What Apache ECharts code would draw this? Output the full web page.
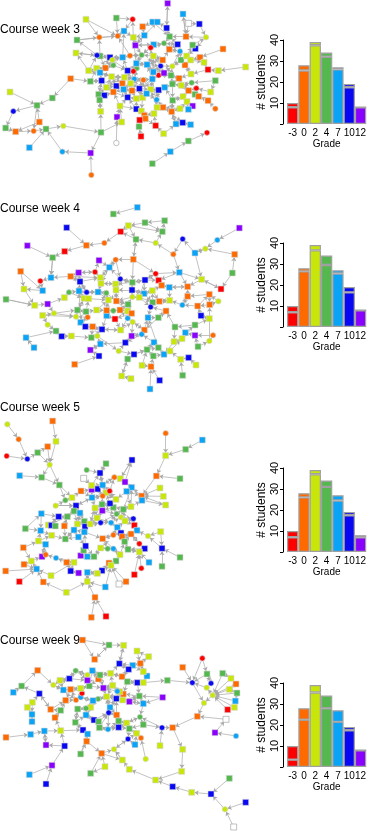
<!DOCTYPE html>
<html>
<head>
<meta charset="utf-8">
<script src="https://cdn.jsdelivr.net/npm/echarts@6/dist/echarts.min.js"></script>
<style>
html, body { margin: 0; padding: 0; background: #fff; }
#chart { width: 369px; height: 831px; }
</style>
</head>
<body>
<div id="chart"></div>
<script>
// grades and their colours (last one = no grade)
var gradeLabels = ['-3', '0', '2', '4', '7', '10', '12'];
var gradeColors = ['#ff0000', '#ff6a00', '#c8e60a', '#55b84f', '#0aa3f5', '#0808f2', '#8a00ff', '#ffffff'];

// students per grade (whole bar) and the part below the grey line, per week
var totalCounts = [10, 28, 39, 34, 27, 19, 8];
var activeWeek3 = [8, 25.5, 37.5, 32, 26, 17.5, 8];
var activeWeek4 = [7, 26.5, 36.5, 29.5, 25.5, 16.5, 8];
var activeWeek5 = [7, 26, 37, 31, 24.5, 17.5, 7];
var activeWeek9 = [3.5, 22.5, 35.5, 28, 21.5, 17.5, 8];

// network nodes: [x, y, grade, circle?, links to]
var nodesWeek3 = [
 [457,237,4,0,-1],[430,240,1,1,0],[403,237,4,1,1],[476,226,0,1,0],[513,226,3,0,3],[537,235,1,0,4],[492,219,6,0,3],[460,216,4,0,0],
 [410,205,3,1,2],[400,214,0,1,8],[383,212,5,0,9],[373,232,2,0,2],[335,230,2,0,11],[340,196,3,1,10],[316,204,1,0,13],[290,205,2,0,14],
 [300,218,4,0,12],[305,242,5,0,16],[271,244,3,0,17],[266,212,2,0,15],[349,258,5,0,12],[367,250,1,0,11],[392,250,2,0,2],[371,268,4,0,22],
 [396,272,1,0,23],[418,266,5,0,1],[452,268,2,0,0],[476,270,5,0,26],[494,262,4,0,27],[517,252,3,0,5],[544,256,2,0,29],[573,222,2,0,5],
 [575,248,3,1,30],[566,272,1,0,30],[589,265,0,1,33],[632,276,2,0,34],[646,242,3,0,32],[624,209,0,0,31],[655,212,2,0,37],[737,201,2,0,38],
 [555,195,1,0,31],[517,199,2,1,6],[482,198,5,1,7],[543,180,3,0,41],[560,168,2,0,43],[572,180,2,0,44],[600,172,1,0,45],[612,187,2,0,46],
 [669,147,1,0,46],[586,146,5,0,44],[578,135,3,0,49],[540,154,4,1,43],[508,148,1,0,51],[533,133,5,0,52],[492,130,3,1,53],[461,134,4,0,54],
 [452,143,0,1,55],[488,180,1,0,42],[460,168,2,0,57],[441,194,4,0,58],[409,190,4,0,59],[425,165,3,1,60],[390,167,1,1,61],[368,172,4,0,62],
 [330,172,5,0,63],[300,168,3,0,64],[291,166,5,1,65],[337,180,2,1,64],[406,136,6,0,61],[433,106,4,0,68],[400,112,2,0,68],[372,93,4,0,70],
 [353,108,1,1,71],[298,112,1,1,72],[231,120,3,0,73],[228,159,2,0,66],[349,54,3,0,72],[258,58,2,0,73],[398,58,0,1,71],[428,80,1,0,69],
 [458,66,4,0,79],[472,66,4,0,80],[500,84,5,0,81],[509,110,3,0,82],[558,110,1,0,83],[618,112,2,1,84],[549,42,4,0,84],[503,10,6,0,82],
 [566,70,7,0,84],[598,72,5,0,85],[319,262,2,0,20],[296,283,3,0,90],[313,286,5,0,91],[340,276,1,0,20],[299,300,3,0,92],[302,334,2,0,94],
 [360,318,2,0,93],[383,292,5,0,24],[409,296,2,0,97],[428,293,2,0,25],[440,281,4,0,26],[470,299,4,1,27],[518,301,3,0,28],[549,290,2,0,102],
 [561,305,2,0,103],[585,283,3,0,33],[596,289,1,0,105],[624,302,1,0,106],[646,326,1,1,107],[578,318,6,0,104],[565,328,4,0,109],[540,326,2,0,104],
 [515,335,1,0,102],[489,322,1,0,101],[471,322,2,0,113],[462,341,2,0,114],[409,327,5,0,98],[424,333,2,0,116],[433,346,1,0,117],[436,356,1,0,118],
 [419,360,0,0,119],[351,351,6,0,96],[365,366,2,0,96],[417,380,3,0,120],[467,377,0,0,115],[491,401,2,0,124],[423,409,0,0,123],[528,372,4,0,112],
 [548,368,5,0,127],[572,374,4,0,128],[349,429,7,1,121],[303,397,3,0,122],[190,378,2,1,131],[138,387,3,0,132],[101,393,1,1,133],[47,395,1,0,134],
 [17,384,3,0,135],[40,334,5,1,136],[111,316,3,0,137],[157,294,3,0,138],[212,236,1,0,139],[30,276,2,0,138],[118,366,1,0,138],[88,443,4,0,133],
 [187,455,4,1,133],[272,459,6,0,144],[274,525,1,1,145],[621,398,0,1,-1],[565,423,3,0,147],[511,455,4,0,148],[457,491,3,0,149]
];
var linksWeek3 = [
 [140,18],[131,145],[131,95],[138,134],[142,135],[0,7],[0,25],[0,59],[1,22],[2,11],[3,7],[3,42],[4,41],[5,30],[6,42],[7,59],[8,60],[9,22],
 [10,63],[12,20],[13,67],[14,67],[16,64],[17,20],[19,66],[21,97],[22,24],[23,93],[25,99],[26,100],[27,101],[28,29],[29,102],[30,32],[31,43],
 [33,105],[36,35],[40,45],[41,51],[42,58],[44,50],[47,37],[52,54],[53,83],[55,56],[56,61],[57,52],[58,61],[60,9],[61,70],[62,72],[63,71],
 [64,75],[65,73],[68,55],[69,81],[70,78],[74,72],[76,78],[77,72],[83,54],[85,49],[90,12],[91,17],[94,95],[96,116],[98,100],[99,117],[103,33],
 [104,110],[111,113],[112,127],[114,26],[115,118],[116,97],[119,124],[120,123],[122,121],[125,127],[128,129],[10,21],[11,60],[20,93],[2,99],
 [3,4],[7,56],[5,33],[26,27],[0,114],[1,25],[13,14],[8,70],[62,63],[67,10],[9,11],[18,15],[19,75],[66,74],[65,14],[17,91],[23,97],[24,98],
 [100,101],[102,112],[111,112],[113,128],[6,4],[41,44],[43,40],[45,47],[50,85],[84,86],[88,89],[82,87],[80,83],[68,69],[60,42],[59,7],
 [56,54],[12,21],[16,19],[22,25],[0,26],[0,3],[1,2],[1,26],[2,22],[3,6],[7,42],[7,58],[8,9],[10,11],[11,21],[12,16],[13,64],[14,15],
 [17,18],[20,21],[22,23],[25,26],[27,28],[29,4],[30,33],[31,40],[41,43],[42,41],[44,45],[51,52],[53,54],[57,58],[59,60],[61,62],[63,64],
 [64,65],[67,63],[69,70],[71,72],[55,61],[58,59],[60,61],[2,8],[9,10],[11,12],[93,97],[96,97],[98,99],[100,26],[101,114],[102,103],
 [112,113],[116,117],[118,119],[23,24],[24,25],[90,93],[91,94],[92,93],[6,41],[4,5],[57,59],[55,68]
];

var nodesWeek4 = [
 [397,247,3,0,-1],[435,240,5,0,0],[361,237,5,1,0],[467,221,0,1,1],[476,241,0,0,3],[538,217,4,0,4],[396,270,5,0,0],[432,281,4,0,6],
 [457,272,2,0,7],[485,256,1,0,4],[508,262,4,0,9],[563,260,1,0,10],[605,238,2,0,11],[663,267,0,0,12],[347,252,2,0,2],[348,270,2,0,14],
 [303,250,2,0,14],[301,233,2,0,16],[285,216,0,1,17],[328,202,4,0,17],[347,179,1,1,19],[297,181,6,0,19],[236,218,6,0,18],[240,245,5,0,22],
 [212,229,1,0,23],[260,277,5,1,23],[237,273,4,0,25],[207,277,3,1,26],[294,276,4,0,25],[319,279,3,1,28],[252,295,2,0,26],[266,296,2,0,30],
 [325,300,2,0,29],[349,303,1,0,15],[384,313,3,0,33],[397,291,2,1,6],[418,292,2,0,35],[458,307,3,0,8],[478,304,1,0,37],[509,301,2,0,38],
 [563,289,1,0,11],[628,283,1,0,40],[655,304,2,1,41],[547,315,4,1,40],[593,318,1,0,43],[629,314,1,0,44],[603,347,5,0,44],[628,356,2,0,46],
 [452,321,5,1,37],[498,333,1,0,48],[475,353,3,0,49],[444,353,4,0,50],[525,381,3,0,49],[585,375,3,0,52],[556,398,4,0,53],[585,406,6,0,54],
 [639,406,1,1,55],[628,423,2,1,56],[594,440,3,0,57],[546,416,2,0,54],[522,425,2,0,59],[383,333,2,0,34],[395,340,1,0,61],[383,355,4,1,62],
 [398,366,2,1,63],[433,390,1,0,64],[425,403,4,1,65],[395,408,6,0,66],[462,427,4,0,66],[441,449,3,0,68],[475,443,3,0,68],[492,463,4,0,70],
 [510,453,2,0,71],[542,478,2,0,72],[566,473,5,0,73],[588,495,2,0,74],[548,526,3,0,73],[460,468,3,0,71],[453,500,1,0,77],[426,496,2,0,78],
 [402,463,5,0,69],[383,477,3,0,80],[365,528,2,0,81],[393,536,2,0,82],[479,541,5,0,78],[450,567,4,0,78],[376,428,5,0,67],[356,453,2,1,86],
 [362,390,2,0,64],[345,357,0,0,61],[320,347,4,0,89],[320,331,1,0,32],[340,332,3,1,91],[360,330,1,0,92],[290,330,2,0,91],[258,335,3,0,94],
 [232,330,3,0,95],[228,350,2,1,96],[263,352,1,1,97],[242,367,4,0,98],[256,380,5,0,99],[278,380,1,0,100],[306,388,5,0,101],[274,413,3,0,102],
 [292,408,2,1,103],[301,432,4,0,104],[271,450,6,0,105],[297,468,5,0,106],[214,408,2,0,103],[185,409,5,0,108],[168,393,3,0,109],[143,374,2,1,110],
 [78,413,4,0,110],[102,443,4,0,112],[224,493,1,0,107],[162,340,2,1,96],[128,346,2,0,115],[193,293,2,0,27],[143,312,6,0,117],[104,316,2,0,118],
 [18,298,3,0,119],[72,267,2,0,119],[128,272,4,0,121],[62,214,1,0,121],[121,243,0,1,122],[153,233,4,0,124],[158,173,3,0,125],[82,137,6,0,126],
 [194,154,0,0,126],[259,136,1,0,128],[200,83,5,0,129],[313,129,1,1,129],[362,95,0,0,131],[385,77,2,0,132],[435,68,3,0,133],[494,62,3,0,134],
 [487,95,3,0,135],[408,118,3,0,132],[400,178,1,0,137],[467,129,2,1,136],[520,163,1,1,139],[548,117,5,1,140],[585,159,4,0,141],[616,146,2,1,142],
 [652,120,4,1,143],[718,84,6,0,144],[704,163,1,0,143],[697,219,3,0,146],[340,42,3,0,-1],[412,22,4,0,148]
];
var linksWeek4 = [
 [138,0],[138,20],[5,12],[142,12],[147,13],[24,125],[23,17],[26,30],[6,15],[7,36],[8,9],[10,39],[37,39],[45,42],[46,47],[44,41],[35,33],
 [36,48],[33,61],[16,28],[29,32],[93,34],[89,88],[63,88],[102,88],[99,26],[97,30],[95,31],[94,32],[90,102],[100,101],[104,87],[86,105],
 [87,80],[81,82],[79,69],[80,69],[70,51],[50,65],[52,60],[53,59],[53,47],[58,55],[57,45],[60,71],[72,59],[77,69],[23,25],[25,28],[27,117],
 [30,96],[118,115],[116,111],[111,109],[18,21],[20,2],[1,3],[1,7],[0,14],[0,6],[2,14],[4,9],[5,11],[19,16],[22,24],[138,3],[134,136],
 [133,137],[139,137],[140,5],[62,63],[65,51],[66,86],[64,67],[34,62],[92,93],[91,29],[14,15],[15,2],[26,23],[27,30],[116,97],[115,97],
 [123,122],[120,119],[113,112],[12,13],[142,143],[41,45],[43,39],[40,43],[10,11],[1,36],[6,35],[7,8],[48,51],[49,50],[28,29],[31,32],
 [24,17],[126,125],[133,136],[137,138],[0,1],[0,2],[1,4],[2,19],[3,5],[6,7],[7,37],[8,38],[9,10],[14,16],[15,33],[16,17],[17,19],[18,22],
 [19,20],[23,24],[25,26],[28,32],[29,33],[33,34],[34,35],[35,36],[36,37],[37,48],[38,39],[61,62],[62,89],[63,64],[64,65],[88,102],[91,92],
 [93,61],[95,96],[96,97],[98,99],[100,102],[101,103],[103,104],[105,106],[66,67],[68,69],[69,70],[71,72]
];

var nodesWeek5 = [
 [340,292,3,0,-1],[330,280,5,0,0],[306,283,3,0,1],[307,302,6,0,2],[285,294,2,0,2],[350,312,3,1,0],[370,298,3,0,0],[393,290,2,0,6],
 [348,268,2,0,1],[318,248,2,0,8],[329,243,0,1,9],[308,258,1,1,9],[293,237,5,0,11],[275,239,6,0,12],[308,225,4,0,9],[275,226,2,0,14],
 [251,205,7,0,15],[300,189,5,0,14],[260,180,3,1,17],[318,161,3,0,17],[343,202,1,1,14],[361,206,2,0,20],[375,216,6,0,21],[396,150,5,0,21],
 [395,232,4,0,22],[380,244,4,0,24],[425,258,1,0,24],[426,271,4,0,26],[469,198,1,0,26],[480,234,2,0,26],[490,259,2,0,26],[497,285,2,0,26],
 [540,206,3,0,28],[497,137,2,0,28],[497,70,1,1,33],[557,118,3,0,33],[607,90,4,0,35],[276,263,4,0,11],[243,243,1,0,13],[216,263,2,0,38],
 [196,271,3,1,39],[178,225,3,0,39],[125,202,3,0,41],[59,197,4,0,42],[149,164,2,1,42],[113,128,3,0,44],[82,147,5,1,45],[20,138,0,1,46],
 [56,88,1,1,46],[22,43,2,1,48],[168,94,2,0,44],[158,33,1,0,50],[143,110,1,0,44],[228,287,5,0,37],[167,287,2,1,53],[222,303,3,0,53],
 [240,309,4,0,55],[202,320,3,0,55],[176,320,5,0,57],[124,311,4,0,58],[76,356,3,0,59],[145,345,2,0,58],[154,346,5,0,61],[166,348,3,0,62],
 [193,348,1,0,57],[232,342,2,0,56],[253,334,3,0,65],[255,350,5,0,66],[270,342,2,0,4],[291,324,2,0,3],[302,338,5,1,69],[333,338,4,1,5],
 [352,352,4,0,71],[363,322,2,1,5],[375,333,2,0,73],[400,326,5,1,74],[403,346,0,0,75],[411,361,4,0,76],[444,378,2,1,77],[482,365,2,0,78],
 [486,415,5,0,78],[540,442,3,0,80],[486,469,3,0,80],[363,369,5,0,72],[340,375,1,1,72],[366,380,1,0,83],[393,372,1,0,85],[418,401,0,1,86],
 [374,395,3,0,85],[384,418,3,0,88],[434,416,5,0,89],[418,426,2,0,89],[447,457,4,0,91],[424,475,0,1,91],[403,494,0,0,91],[308,386,1,0,84],
 [340,416,4,1,95],[323,416,3,1,96],[302,414,2,0,97],[360,434,2,0,96],[348,453,3,0,99],[327,459,1,0,100],[333,466,2,0,100],[306,482,5,0,102],
 [292,490,2,0,103],[262,487,4,0,104],[262,515,2,0,105],[285,562,1,0,106],[274,622,1,0,107],[318,619,0,0,107],[316,531,4,0,102],[357,522,7,0,102],
 [378,515,1,0,102],[282,440,3,0,98],[262,440,4,0,113],[242,437,6,0,114],[251,421,3,0,114],[257,408,5,0,116],[253,366,4,0,67],[235,381,4,0,118],
 [222,360,4,0,119],[196,387,3,0,120],[155,376,2,0,121],[122,362,4,0,122],[115,393,2,0,123],[137,403,4,0,124],[70,413,1,0,124],[126,440,6,0,125],
 [137,434,1,1,127],[168,444,4,1,128],[200,457,1,0,129],[222,457,2,0,130],[94,453,2,0,127],[72,463,1,0,132],[110,477,4,0,132],[17,483,1,0,134],
 [58,515,0,0,134],[153,497,2,0,134],[130,516,1,0,134],[199,547,2,0,138],[212,483,5,0,131],[236,489,6,0,140]
];
var linksWeek5 = [
 [139,106],[59,123],[60,123],[54,40],[41,40],[37,53],[13,15],[12,14],[10,20],[1,8],[0,7],[6,73],[3,4],[70,71],[68,70],[2,11],[8,9],[25,7],
 [27,31],[24,21],[22,23],[57,61],[65,68],[118,95],[119,117],[117,113],[115,116],[129,131],[130,140],[104,105],[103,101],[99,100],[98,113],
 [86,87],[83,84],[75,77],[74,6],[0,5],[73,74],[72,83],[96,97],[66,68],[67,118],[64,121],[57,58],[56,65],[55,56],[53,55],[37,11],[38,37],
 [39,40],[44,41],[45,52],[89,91],[88,86],[85,86],[90,87],[79,80],[76,77],[3,69],[4,68],[1,2],[17,19],[9,10],[14,17],[12,13],[11,37],[2,4],
 [5,73],[6,7],[0,1],[71,72],[69,70],[125,127],[124,122],[126,132],[133,134],[137,131],[140,141],[105,106],[110,106],[112,111],[84,95],
 [96,99],[98,97],[114,116],[54,53],[55,57],[58,62],[61,63],[64,57],[120,121],[118,119],[67,68],[7,24],[25,26],[26,27],[21,22],[20,21],
 [0,2],[0,3],[1,9],[2,3],[3,5],[4,69],[5,6],[6,24],[7,27],[8,10],[9,11],[10,14],[11,12],[12,15],[13,37],[14,20],[15,17],[20,22],[21,23],
 [24,25],[25,8],[37,4],[53,56],[55,65],[56,66],[65,66],[66,67],[67,70],[68,69],[69,71],[70,5],[71,73],[72,74],[73,75],[74,76],[83,85],
 [84,72],[85,88],[95,97],[97,98],[99,88],[113,114],[116,117],[117,118],[118,120],[119,121]
];

var nodesWeek9 = [
 [330,262,4,0,-1],[326,278,5,1,0],[350,285,1,0,1],[349,236,5,0,0],[368,240,2,0,3],[388,245,6,0,4],[430,251,4,0,5],[418,228,3,0,5],
 [488,232,6,0,7],[370,222,1,0,3],[359,215,2,0,9],[352,214,4,1,10],[338,196,2,0,11],[310,204,6,0,12],[320,230,2,0,0],[294,237,3,1,14],
 [279,242,4,0,15],[272,262,2,0,16],[258,265,3,1,17],[233,267,3,0,18],[242,232,4,1,16],[246,220,0,1,20],[228,240,1,1,20],[197,241,1,0,22],
 [242,205,2,0,21],[268,198,3,0,24],[212,208,1,0,24],[190,210,4,0,26],[160,195,2,1,27],[180,181,2,0,28],[208,176,5,0,29],[227,152,3,1,30],
 [262,165,2,1,31],[277,152,4,0,32],[262,181,6,0,32],[295,177,1,0,33],[300,165,3,0,35],[332,160,2,0,36],[366,170,1,0,37],[382,185,3,0,38],
 [412,188,5,0,39],[430,188,2,0,40],[441,168,4,0,41],[430,155,2,0,42],[421,130,1,0,43],[398,136,4,0,44],[386,148,5,0,45],[358,131,5,0,46],
 [411,93,2,0,44],[446,110,2,0,48],[371,76,2,0,47],[327,75,3,0,50],[284,118,1,0,51],[248,60,1,0,52],[113,151,1,0,28],[65,198,3,0,54],
 [40,217,4,0,55],[118,221,5,0,55],[97,247,2,0,57],[82,262,2,0,58],[152,268,1,0,57],[182,271,3,0,60],[96,283,4,0,59],[96,305,4,0,62],
 [165,293,1,0,61],[226,307,3,0,19],[258,285,4,0,18],[282,300,5,0,66],[296,305,3,0,67],[298,323,3,0,68],[324,328,4,1,69],[356,303,3,0,2],
 [356,322,5,0,71],[380,309,2,0,71],[420,291,3,1,73],[430,314,3,0,74],[388,326,3,0,73],[410,340,2,0,76],[384,357,5,1,77],[423,354,1,1,77],
 [405,374,4,0,78],[437,417,2,1,79],[342,388,2,1,78],[367,420,2,0,82],[388,448,2,0,83],[467,480,2,0,84],[518,500,5,0,85],[575,517,2,0,86],
 [633,522,5,0,87],[688,475,3,0,88],[675,568,2,1,88],[737,547,5,0,90],[701,621,7,0,90],[545,454,2,0,85],[548,388,2,0,93],[518,323,1,0,94],
 [486,323,5,1,95],[480,377,2,0,96],[592,289,1,0,95],[612,249,2,1,98],[577,188,5,1,99],[548,142,1,0,100],[502,181,3,0,100],[607,115,0,1,100],
 [621,162,3,0,100],[633,190,5,1,104],[620,203,2,1,105],[638,226,2,1,106],[668,160,3,0,107],[693,175,2,0,107],[708,192,1,0,107],[688,208,2,0,107],
 [711,219,3,0,107],[706,243,4,0,107],[683,269,0,0,107],[703,262,2,0,107],[678,298,7,0,98],[645,338,6,0,116],[708,348,4,1,117],[305,400,1,0,82],
 [315,440,2,0,119],[272,460,3,0,119],[260,364,1,0,119],[242,402,3,0,122],[249,330,5,0,65],[263,342,4,0,124],[182,332,2,0,124],[133,333,4,0,126],
 [92,343,4,0,127],[18,352,1,0,128],[138,375,6,0,127],[194,378,5,0,126],[156,436,6,0,131],[88,464,4,0,132],[138,492,5,0,132]
];
var linksWeek9 = [
 [6,7],[60,23],[61,23],[64,61],[57,60],[62,63],[58,62],[127,130],[131,130],[126,64],[65,124],[19,65],[17,66],[0,14],[1,14],[2,3],[3,14],
 [4,9],[5,6],[7,9],[10,12],[11,13],[12,37],[13,36],[15,17],[16,20],[20,22],[21,24],[25,13],[26,23],[28,30],[29,27],[31,34],[33,36],[35,25],
 [37,47],[38,46],[39,9],[40,7],[42,43],[45,47],[46,38],[0,2],[1,70],[70,72],[71,73],[69,1],[67,1],[72,76],[76,78],[78,82],[80,77],[83,82],
 [120,121],[122,125],[123,125],[15,18],[14,16],[33,25],[36,13],[4,5],[2,71],[6,74],[107,99],[104,105],[103,104],[106,100],[110,111],
 [108,109],[96,74],[75,96],[8,6],[41,102],[45,43],[47,50],[51,52],[53,51],[44,49],[24,26],[27,22],[30,31],[32,34],[12,13],[10,3],[9,14],
 [18,66],[67,68],[69,70],[65,66],[124,125],[125,122],[119,83],[68,1],[73,74],[75,76],[112,113],[114,115],[111,112],
 [0,3],[0,1],[1,2],[2,72],[3,4],[4,7],[5,7],[9,10],[10,11],[11,12],[12,14],[13,14],[14,15],[15,16],[16,17],[17,18],[18,19],[20,21],
 [21,22],[22,26],[24,25],[25,34],[26,27],[27,28],[29,30],[30,34],[31,32],[32,33],[33,35],[35,36],[36,37],[37,38],[38,39],[39,40],
 [40,41],[41,42],[43,44],[44,45],[45,46],[46,47],[66,67],[67,68],[68,69],[69,72],[70,71],[72,73],[73,76]
];

var weekTitles = ['Course week 3', 'Course week 4', 'Course week 5', 'Course week 9'];

var font = '"Liberation Sans", Arial, Helvetica, sans-serif';
var chart = echarts.init(document.getElementById('chart'));

var netGrids = [
  {top: 0, height: 200, ymax: 600},
  {top: 200, height: 200, ymax: 600},
  {top: 410, height: 210, ymax: 630},
  {top: 620, height: 211, ymax: 633}
];
var barTops = [40, 243, 468, 683];
var titleTops = [24, 203, 402, 635];
var netNodes = [nodesWeek3, nodesWeek4, nodesWeek5, nodesWeek9];
var netLinks = [linksWeek3, linksWeek4, linksWeek5, linksWeek9];
var activeAll = [activeWeek3, activeWeek4, activeWeek5, activeWeek9];

var grid = [], xAxis = [], yAxis = [], series = [], title = [];

function graphSeries(nodes, extra, idx) {
  var data = nodes.map(function (n) {
    return {
      value: [n[0], n[1]],
      symbol: n[3] ? 'circle' : 'rect',
      symbolSize: n[3] ? 5.5 : 6,
      itemStyle: {
        color: gradeColors[n[2]],
        borderColor: n[2] === 7 ? '#999' : '#d8d8d8',
        borderWidth: 0.6
      }
    };
  });
  var links = [];
  nodes.forEach(function (n, i) {
    if (n[4] >= 0) links.push({source: i, target: n[4]});
  });
  extra.forEach(function (e) {
    links.push({source: e[0], target: e[1]});
  });
  return {
    type: 'graph',
    coordinateSystem: 'cartesian2d',
    xAxisIndex: idx,
    yAxisIndex: idx,
    data: data,
    links: links,
    edgeSymbol: ['none', 'arrow'],
    edgeSymbolSize: [0, 4],
    lineStyle: {color: '#a8a8a8', width: 0.7, opacity: 1},
    silent: true
  };
}

for (var k = 0; k < 4; k++) {
  // network panel
  grid.push({left: 0, top: netGrids[k].top, width: 250, height: netGrids[k].height});
  xAxis.push({type: 'value', gridIndex: k, min: 0, max: 750, show: false});
  yAxis.push({type: 'value', gridIndex: k, min: 0, max: netGrids[k].ymax, inverse: true, show: false});
  series.push(graphSeries(netNodes[k], netLinks[k], k));

  title.push({
    text: weekTitles[k], left: 0, top: titleTops[k], padding: 0,
    textStyle: {fontSize: 12, fontWeight: 'normal', color: '#000', fontFamily: font}
  });
}

for (var k = 0; k < 4; k++) {
  // bar panel
  var gi = 4 + k;
  grid.push({left: 287, top: barTops[k], width: 81, height: 84});
  xAxis.push({
    type: 'category', gridIndex: gi, data: gradeLabels,
    axisLine: {show: false}, axisTick: {show: false},
    axisLabel: {fontSize: 10, color: '#000', margin: 4, interval: 0, fontFamily: font},
    name: 'Grade', nameLocation: 'middle', nameGap: 13,
    nameTextStyle: {fontSize: 10, color: '#000', fontFamily: font}
  });
  yAxis.push({
    type: 'value', gridIndex: gi, min: 0, max: 40, interval: 10, offset: 4,
    axisLine: {show: true, lineStyle: {color: '#000', width: 1}},
    axisTick: {show: true, length: 3, lineStyle: {color: '#000'}},
    splitLine: {show: false},
    axisLabel: {
      rotate: 90, fontSize: 11, color: '#000', margin: 3, fontFamily: font,
      formatter: function (v) { return v === 0 ? '' : v; }
    },
    name: '# students', nameLocation: 'middle', nameGap: 15,
    nameTextStyle: {fontSize: 12, color: '#000', fontFamily: font}
  });
  var act = activeAll[k];
  series.push({
    type: 'bar', xAxisIndex: gi, yAxisIndex: gi, stack: 'w' + k, barCategoryGap: '0%',
    itemStyle: {borderColor: '#a0a0a0', borderWidth: 1.2},
    data: act.map(function (v, i) { return {value: v, itemStyle: {color: gradeColors[i]}}; }),
    silent: true
  });
  series.push({
    type: 'bar', xAxisIndex: gi, yAxisIndex: gi, stack: 'w' + k, barCategoryGap: '0%',
    itemStyle: {borderColor: '#a0a0a0', borderWidth: 1.2},
    data: act.map(function (v, i) { return {value: totalCounts[i] - v, itemStyle: {color: gradeColors[i]}}; }),
    silent: true
  });
}

chart.setOption({
  animation: false,
  backgroundColor: '#fff',
  title: title,
  grid: grid,
  xAxis: xAxis,
  yAxis: yAxis,
  series: series
});
</script>
</body>
</html>
